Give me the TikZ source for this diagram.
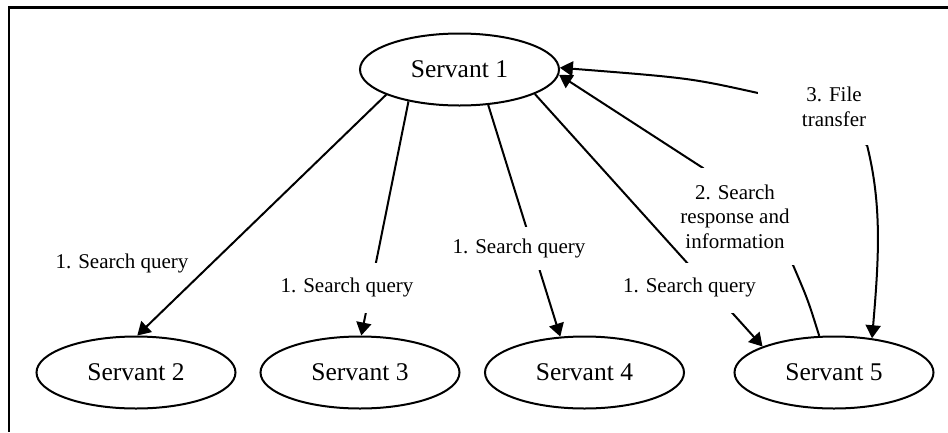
\documentclass[tikz,border=0pt]{standalone}
\usepackage{fontspec}
\setmainfont{Liberation Serif}
\usetikzlibrary{shapes.geometric,arrows.meta}
\begin{document}
\begin{tikzpicture}[x=1pt,y=-1pt,
  servant/.style={ellipse, draw, line width=2pt, minimum width=199pt,
    minimum height=72pt, inner sep=0pt, font=\fontsize{25.5}{30}\selectfont},
  lbl/.style={fill=white, inner xsep=2pt, inner ysep=0pt, align=center,
    font=\fontsize{21}{24.5}\selectfont},
  wire/.style={line width=2pt, line join=round},
  headed/.style={-{Triangle[length=13pt,width=15pt]}},
  bothheads/.style={{Triangle[length=13pt,width=15pt]}-{Triangle[length=13pt,width=15pt]}},
]
\useasboundingbox (0,0) rectangle (948,432);

% frame
\draw[line width=2.4pt] (948,7.5) -- (9,7.5) -- (9,432);

% servants
\node[servant] (s1) at (459.5,69.5) {Servant 1};
\node[servant] (s2) at (136,372.5) {Servant 2};
\node[servant] (s3) at (360,372.5) {Servant 3};
\node[servant] (s4) at (584.5,372.5) {Servant 4};
\node[servant] (s5) at (834,372.5) {Servant 5};

% search queries from servant 1
\draw[wire,headed] (s1.199) -- (s2.88);
\node[lbl] (q2) at (122,263) {1. Search query};

\draw[wire,headed] (s1.212) -- (s3.88);
\node[lbl, minimum height=50pt] (q3) at (347,287.5) {1. Search query};

\draw[wire,headed] (s1.309) -- (s4.124);
\node[lbl, minimum height=43pt] (q4) at (519,248.5) {1. Search query};

% search response back to servant 1
\coordinate (r2in) at (793,265);
\coordinate (r2out) at (703,168);
\draw[wire,headed] (s5.112) .. controls (808,300) .. (r2in) -- (r2out) -- (s1.357);
\node[lbl, minimum width=122pt, minimum height=97pt] (r2) at (735,216.5)
  {2. Search\\response and\\information};

\draw[wire,headed] (s1.342) -- (s5.160);
\node[lbl, minimum height=50pt] (q5) at (689.5,287.5) {1. Search query};

% file transfer between servant 1 and servant 5
\coordinate (f3in) at (758,93);
\coordinate (f3out) at (867,145);
\draw[wire,bothheads] (s1.1) .. controls (690,78) .. (f3in) -- (f3out)
  .. controls (882,205) and (879,257) .. (s5.42);
\node[lbl, minimum width=152pt, minimum height=76pt] (f3) at (834,107)
  {3. File\\transfer};
\end{tikzpicture}
\end{document}
